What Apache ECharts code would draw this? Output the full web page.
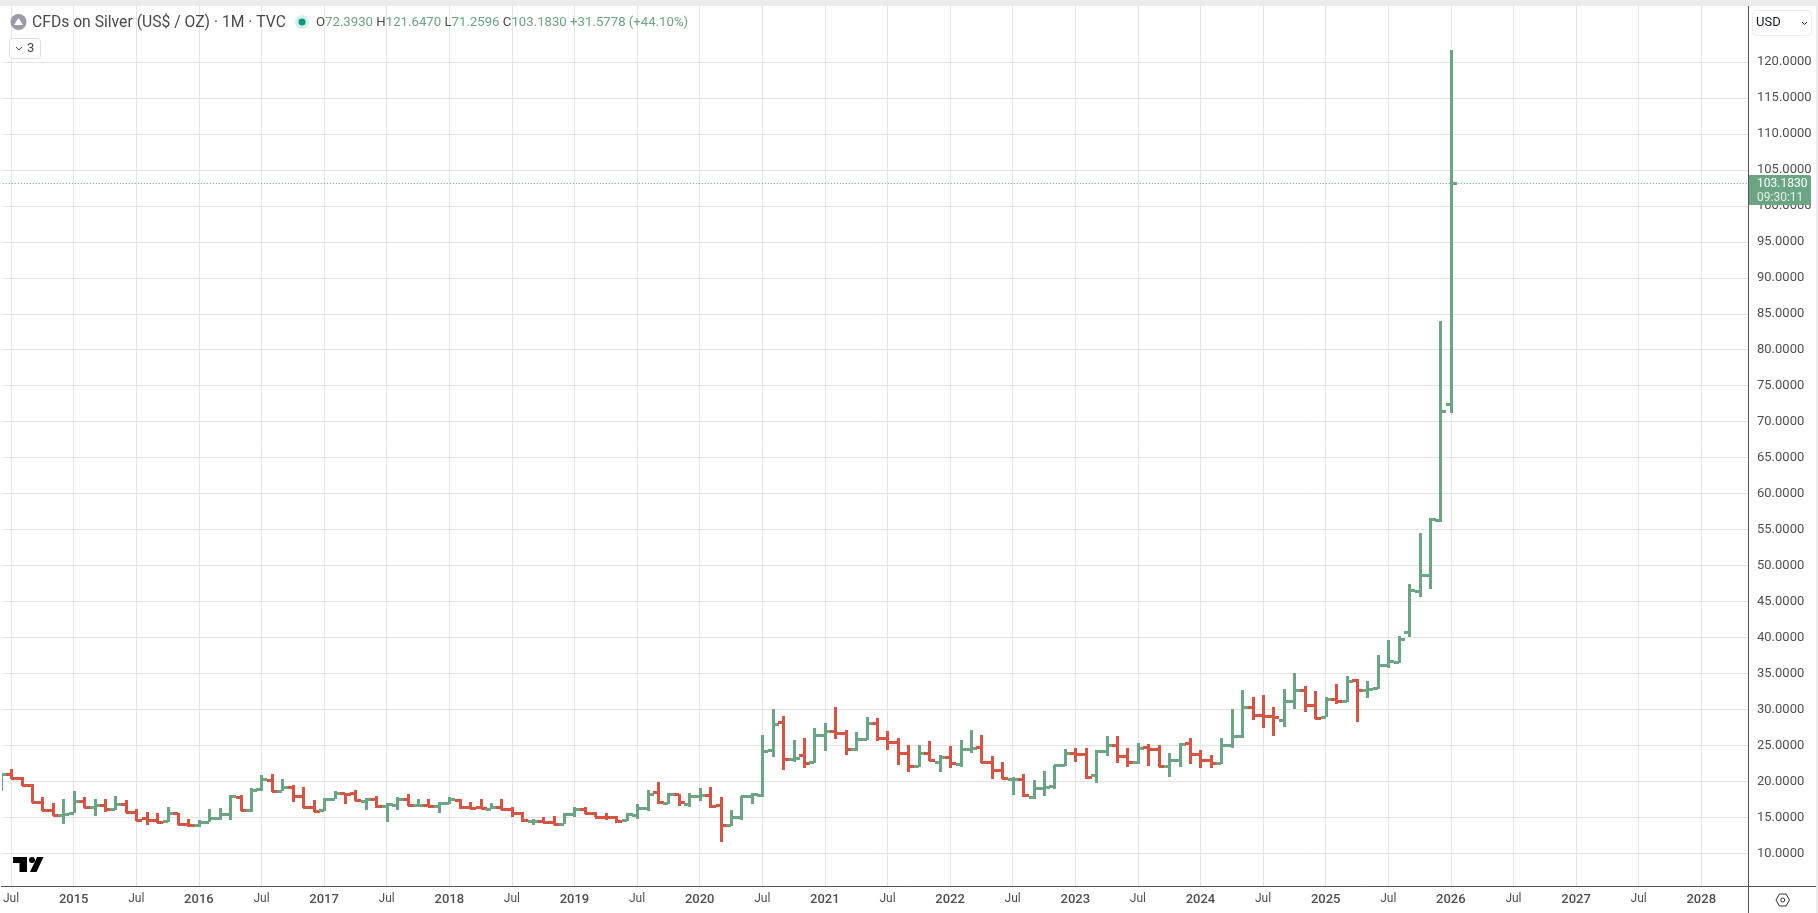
<!DOCTYPE html>
<html>
<head>
<meta charset="utf-8">
<title>CFDs on Silver</title>
<script src="https://cdn.jsdelivr.net/npm/echarts@6/dist/echarts.min.js"></script>
<style>
html, body { margin: 0; padding: 0; background: #fff; }
#chart { width: 1818px; height: 913px; }
</style>
</head>
<body>
<div id="chart"></div>
<script>
// monthly bars, Jun 2014 .. Jan 2026
const opens = [
  18.7, 21.0, 20.46, 19.44, 17.08, 16.06, 15.32,
  15.6, 17.27, 16.48, 16.67, 16.11, 16.85, 15.7, 14.85, 14.63, 14.45, 15.56, 14.07,
  13.9, 14.4, 14.9, 15.46, 17.77, 15.97, 18.88, 20.25, 18.7, 19.17, 17.92, 16.48,
  15.97, 17.6, 18.33, 18.4, 17.3, 17.5, 16.57, 16.75, 17.6, 16.65, 16.67, 16.55,
  16.94, 17.4, 16.48, 16.38, 16.2, 16.44, 16.2, 15.56, 14.45, 14.55, 14.3, 14.1,
  15.5, 16.2, 15.65, 15.1, 15.0, 14.63, 15.3, 16.25, 18.55, 17.03, 18.2, 16.9,
  17.9, 18.1, 16.66, 13.98, 15.0, 18.0, 18.13, 24.35, 28.24, 23.15, 23.6, 22.73,
  26.48, 27.0, 26.67, 24.44, 25.93, 28.15, 26.1, 25.42, 23.9, 22.18, 23.89, 22.73,
  23.34, 22.41, 24.5, 24.72, 22.73, 21.62, 20.28, 20.34, 17.87, 19.03, 19.4, 22.22,
  24.0, 23.75, 20.9, 24.26, 25.0, 23.47, 22.64, 24.72, 24.44, 22.18, 22.96, 25.28,
  23.84, 22.96, 22.6, 25.0, 26.3, 30.4, 29.17, 29.03, 28.5, 31.16, 32.7, 30.55,
  29.0, 31.4, 31.16, 34.1, 32.7, 33.0, 36.16, 36.6, 40.8, 46.5, 48.66, 56.4,
  72.393
];
const highs = [
  21.2, 21.67, 20.65, 19.7, 17.87, 16.94, 17.55,
  18.66, 17.87, 17.5, 17.5, 17.92, 17.4, 16.16, 15.8, 15.56, 16.48, 15.65, 14.8,
  14.7, 16.1, 16.25, 18.1, 18.1, 19.03, 20.83, 21.0, 20.28, 19.44, 19.17, 17.4,
  17.73, 18.6, 18.45, 18.8, 17.65, 17.96, 16.94, 17.78, 18.29, 17.6, 17.5, 17.1,
  17.87, 17.5, 17.08, 17.55, 16.94, 17.55, 16.4, 15.74, 14.8, 15.1, 15.14, 15.6,
  16.39, 16.4, 15.8, 15.56, 15.14, 15.56, 16.8, 18.8, 19.9, 18.43, 18.3, 18.33,
  19.03, 19.17, 17.78, 15.97, 18.0, 18.43, 26.43, 30.0, 29.07, 25.74, 26.1, 27.45,
  28.05, 30.3, 27.2, 26.8, 28.9, 28.75, 26.94, 26.1, 25.0, 25.0, 25.6, 23.6,
  24.9, 25.74, 27.13, 26.43, 23.47, 22.69, 20.56, 21.0, 20.2, 21.43, 22.27, 24.5,
  24.7, 24.7, 24.35, 26.25, 26.25, 24.7, 25.37, 25.14, 25.0, 23.89, 25.37, 26.1,
  24.35, 23.66, 25.97, 30.0, 32.7, 31.67, 32.0, 30.28, 32.9, 35.0, 33.24, 32.55,
  31.76, 33.5, 34.7, 34.3, 33.9, 37.55, 39.63, 40.2, 47.4, 54.58, 56.67, 84.0,
  121.647
];
const lows = [
  18.6, 20.4, 19.35, 16.95, 15.88, 15.2, 14.12,
  15.55, 16.25, 15.23, 15.7, 15.97, 15.55, 14.44, 14.0, 14.26, 14.35, 13.9, 13.7,
  13.66, 14.35, 14.7, 14.7, 15.93, 15.8, 18.7, 18.47, 18.6, 17.13, 16.25, 15.7,
  15.88, 17.5, 16.8, 17.27, 16.06, 16.3, 14.4, 16.06, 16.57, 16.4, 16.4, 15.65,
  16.85, 16.16, 16.1, 16.2, 16.1, 16.0, 15.1, 14.3, 14.0, 14.26, 13.95, 14.07,
  15.1, 15.5, 15.0, 14.7, 14.2, 14.54, 14.8, 15.93, 16.85, 16.85, 16.57, 16.48,
  17.3, 16.34, 11.57, 13.8, 14.7, 16.85, 17.8, 23.43, 21.57, 22.64, 21.85, 22.6,
  24.26, 25.93, 23.7, 24.26, 25.74, 25.55, 24.4, 22.3, 21.34, 22.04, 22.87, 21.34,
  21.85, 22.04, 23.98, 22.6, 20.37, 20.28, 18.1, 17.87, 17.6, 18.0, 18.9, 22.13,
  22.73, 20.37, 19.8, 23.5, 22.6, 22.04, 22.45, 22.18, 22.04, 20.65, 21.94, 22.45,
  21.9, 21.9, 22.4, 24.7, 25.97, 28.6, 27.36, 26.34, 27.6, 30.05, 29.68, 28.7,
  28.9, 30.7, 31.06, 28.3, 31.6, 32.9, 35.8, 36.4, 40.1, 45.56, 46.8, 56.1,
  71.2596
];
const closes = [
  21.05, 20.46, 19.44, 17.08, 16.06, 15.32, 15.5,
  17.27, 16.48, 16.67, 16.11, 16.85, 15.7, 14.63, 14.58, 14.4, 15.56, 14.07, 13.9,
  14.4, 14.9, 15.46, 17.9, 16.06, 18.8, 20.3, 18.6, 19.17, 17.92, 16.48, 15.88,
  17.55, 18.33, 18.3, 17.4, 17.5, 16.57, 16.8, 17.6, 16.76, 16.67, 16.57, 16.94,
  17.5, 16.4, 16.35, 16.35, 16.44, 16.16, 15.56, 14.58, 14.55, 14.35, 14.1, 15.5,
  16.2, 15.65, 15.1, 15.0, 14.54, 15.4, 16.25, 18.3, 17.08, 18.3, 17.1, 17.9,
  18.05, 16.57, 13.98, 15.0, 17.92, 18.2, 24.26, 27.96, 23.15, 23.2, 22.6, 26.48,
  27.0, 26.67, 24.44, 25.83, 28.05, 26.1, 25.42, 23.9, 22.18, 23.9, 22.96, 23.43,
  22.5, 24.5, 24.68, 22.73, 21.62, 20.42, 20.3, 18.1, 19.03, 19.17, 22.22, 23.9,
  23.75, 20.65, 24.26, 25.0, 23.47, 22.73, 24.68, 24.44, 22.2, 22.96, 25.23, 23.84,
  22.96, 22.6, 25.0, 26.25, 30.4, 29.17, 29.03, 28.9, 31.16, 32.7, 30.65, 28.8,
  31.4, 31.16, 34.0, 32.7, 32.87, 36.16, 36.7, 39.77, 46.67, 48.66, 56.48, 71.5,
  103.183
];

// x axis labels, one every 6 bars starting at Jul 2014 (bar index 1)
const timeLabels = ['Jul', '2015', 'Jul', '2016', 'Jul', '2017', 'Jul', '2018', 'Jul', '2019', 'Jul',
  '2020', 'Jul', '2021', 'Jul', '2022', 'Jul', '2023', 'Jul', '2024', 'Jul', '2025', 'Jul', '2026',
  'Jul', '2027', 'Jul', '2028'];
const priceTicks = [10, 15, 20, 25, 30, 35, 40, 45, 50, 55, 60, 65, 70, 75, 80, 85, 90, 95, 100, 105, 110, 115, 120];

// the window starts part way through a month; the x axis min has to stay whole
const SCROLL = 0.206;
const timeTicks = timeLabels.map((_, i) => 1 + i * 6 - SCROLL);

const UP = '#6BA583';
const DOWN = '#D75442';
const GRID = '#e4e4e4';
const TEXT = '#4f4f4f';
const FONT = 'Roboto, sans-serif';
const AXIS = '#555555';

const bars = opens.map((o, i) => [i - SCROLL, o, highs[i], lows[i], closes[i]]);

// whole pixels only, so the 3px strokes stay crisp
function renderBar(params, api){
    // the first bar is left of the axis min and coord() clamps it, so step from two points in range
    let x1 = api.coord([1, 10])[0];
    let x2 = api.coord([2, 10])[0];
    let x = Math.round(x1 + (api.value(0) - 1) * (x2 - x1));
    let o = Math.round(api.coord([1, api.value(1)])[1]);
    let h = Math.round(api.coord([1, api.value(2)])[1]);
    let l = Math.round(api.coord([1, api.value(3)])[1]);
    let c = Math.round(api.coord([1, api.value(4)])[1]);
    let fill = api.value(4) >= api.value(1) ? UP : DOWN;
    return {
        type: 'group',
        children: [
            { type: 'rect', shape: { x: x - 1, y: h, width: 3, height: l - h }, style: { fill: fill } },
            { type: 'rect', shape: { x: x - 5, y: o - 1, width: 5, height: 3 }, style: { fill: fill } },
            { type: 'rect', shape: { x: x, y: c - 1, width: 6, height: 3 }, style: { fill: fill } }
        ]
    };
}

let chart = echarts.init(document.getElementById('chart'), null, { renderer: 'canvas' });

chart.setOption({
    animation: false,
    backgroundColor: '#ffffff',
    grid: { left: 0, right: 70, top: 4.4, bottom: 23.7 },
    xAxis: {
        type: 'value',
        min: 0,
        max: 167.274,
        axisLine: { show: false },
        axisTick: { show: false, customValues: timeTicks },
        axisLabel: {
            customValues: timeTicks,
            margin: 4,
            hideOverlap: false,
            fontFamily: FONT,
            color: TEXT,
            formatter: function(v){
                let label = timeLabels[Math.round((v + SCROLL - 1) / 6)];
                return label === 'Jul' ? '{m|Jul}' : '{y|' + label + '}';
            },
            rich: {
                m: { fontSize: 12, fontFamily: FONT, color: TEXT },
                y: { fontSize: 13, fontFamily: FONT, color: TEXT, fontWeight: 500 }
            }
        },
        splitLine: { show: true, lineStyle: { color: GRID, width: 1 } }
    },
    yAxis: {
        type: 'value',
        position: 'right',
        min: 5,
        max: 128,
        interval: 5,
        axisLine: { show: false },
        axisTick: { show: false, customValues: priceTicks },
        axisLabel: {
            customValues: priceTicks,
            margin: 9,
            fontSize: 13,
            fontFamily: FONT,
            color: TEXT,
            formatter: function(v){ return v.toFixed(4); }
        },
        splitLine: { show: true, lineStyle: { color: GRID, width: 1 } }
    },
    series: [{
        type: 'custom',
        renderItem: renderBar,
        data: bars,
        encode: { x: 0, y: [1, 2, 3, 4] },
        clip: true,
        markLine: {
            silent: true,
            symbol: 'none',
            animation: false,
            label: { show: false },
            lineStyle: { color: UP, type: [1, 2], width: 1 },
            data: [{ yAxis: closes[closes.length - 1] }]
        }
    }]
});

// chart furniture: header, price flag, axis frame, logos
let lastY = Math.round(chart.convertToPixel({ yAxisIndex: 0 }, closes[closes.length - 1]));

chart.setOption({
    graphic: [
        { type: 'rect', z: 50, shape: { x: 0, y: 0, width: 1818, height: 6 }, style: { fill: '#ececec' } },
        { type: 'rect', z: 50, shape: { x: 1816, y: 0, width: 2, height: 913 }, style: { fill: '#ececec' } },
        // the grid runs down to price 5, just past the time axis line
        { type: 'rect', z: 49, shape: { x: 0, y: 887, width: 1748, height: 4 }, style: { fill: '#ffffff' } },
        { type: 'line', z: 50, shape: { x1: 1748.5, y1: 6, x2: 1748.5, y2: 913 }, style: { stroke: AXIS, lineWidth: 1 } },
        { type: 'line', z: 50, shape: { x1: 1, y1: 886.5, x2: 1816, y2: 886.5 }, style: { stroke: AXIS, lineWidth: 1 } },

        { type: 'circle', z: 50, shape: { cx: 18.5, cy: 22, r: 8 }, style: { fill: '#9a9aa8' } },
        { type: 'polygon', z: 51, shape: { points: [[14, 25], [18.5, 18], [23, 25]] }, style: { fill: '#ffffff' } },
        { type: 'text', z: 50, x: 32, y: 23, style: {
            text: 'CFDs on Silver (US$ / OZ) · 1M · TVC',
            font: '15.7px ' + FONT, fill: '#4a4a4a', verticalAlign: 'middle'
        } },
        { type: 'circle', z: 50, shape: { cx: 302, cy: 22, r: 7 }, style: { fill: '#d5efe9' } },
        { type: 'circle', z: 51, shape: { cx: 302, cy: 22, r: 3.5 }, style: { fill: '#089981' } },
        { type: 'text', z: 50, x: 316, y: 23, style: {
            text: '{n|O}{v|72.3930} {n|H}{v|121.6470} {n|L}{v|71.2596} {n|C}{v|103.1830} {v|+31.5778 (+44.10%)}',
            verticalAlign: 'middle',
            rich: {
                n: { font: '13.2px ' + FONT, fill: '#4a4a4a' },
                v: { font: '13.2px ' + FONT, fill: UP }
            }
        } },
        { type: 'rect', z: 50, shape: { x: 9.5, y: 38.5, width: 31, height: 20, r: 3 }, style: { fill: '#ffffff', stroke: '#e0e0e0', lineWidth: 1 } },
        { type: 'polyline', z: 51, shape: { points: [[16, 47], [19, 50], [22, 47]] }, style: { stroke: '#4a4a4a', fill: null, lineWidth: 1 } },
        { type: 'text', z: 51, x: 27, y: 48.5, style: { text: '3', font: '13px ' + FONT, fill: '#4a4a4a', verticalAlign: 'middle' } },

        { type: 'rect', z: 50, shape: { x: 1752.5, y: 10.5, width: 59, height: 25, r: 4 }, style: { fill: '#ffffff', stroke: '#ececec', lineWidth: 1 } },
        { type: 'text', z: 51, x: 1756, y: 23, style: { text: 'USD', font: '13px ' + FONT, fill: '#131722', verticalAlign: 'middle' } },
        { type: 'polyline', z: 51, shape: { points: [[1802, 22], [1804.5, 24.5], [1807, 22]] }, style: { stroke: '#131722', fill: null, lineWidth: 1 } },

        { type: 'rect', z: 60, shape: { x: 1749, y: lastY - 8, width: 62, height: 30, r: [0, 2, 2, 0] }, style: { fill: UP } },
        { type: 'text', z: 61, x: 1757, y: lastY + 0.5, style: { text: '103.1830', font: '12px ' + FONT, fill: '#ffffff', verticalAlign: 'middle' } },
        { type: 'text', z: 61, x: 1757, y: lastY + 14.5, style: { text: '09:30:11', font: '12px ' + FONT, fill: '#e3efe8', verticalAlign: 'middle' } },

        { type: 'polygon', z: 50, shape: { points: [[13, 857], [27, 857], [27, 872], [19.5, 872], [19.5, 863], [13, 863]] }, style: { fill: '#000000' } },
        { type: 'circle', z: 50, shape: { cx: 32, cy: 860, r: 3 }, style: { fill: '#000000' } },
        { type: 'polygon', z: 50, shape: { points: [[37, 857], [43.5, 857], [36.5, 872], [30, 872]] }, style: { fill: '#000000' } },

        { type: 'polygon', z: 50, shape: { points: [[1776, 900], [1779.5, 894], [1786, 894], [1789.5, 900], [1786, 906], [1779.5, 906]] }, style: { fill: 'none', stroke: '#333333', lineWidth: 1 } },
        { type: 'circle', z: 50, shape: { cx: 1782.7, cy: 900, r: 2 }, style: { fill: 'none', stroke: '#333333', lineWidth: 1 } }
    ]
});
</script>
</body>
</html>
